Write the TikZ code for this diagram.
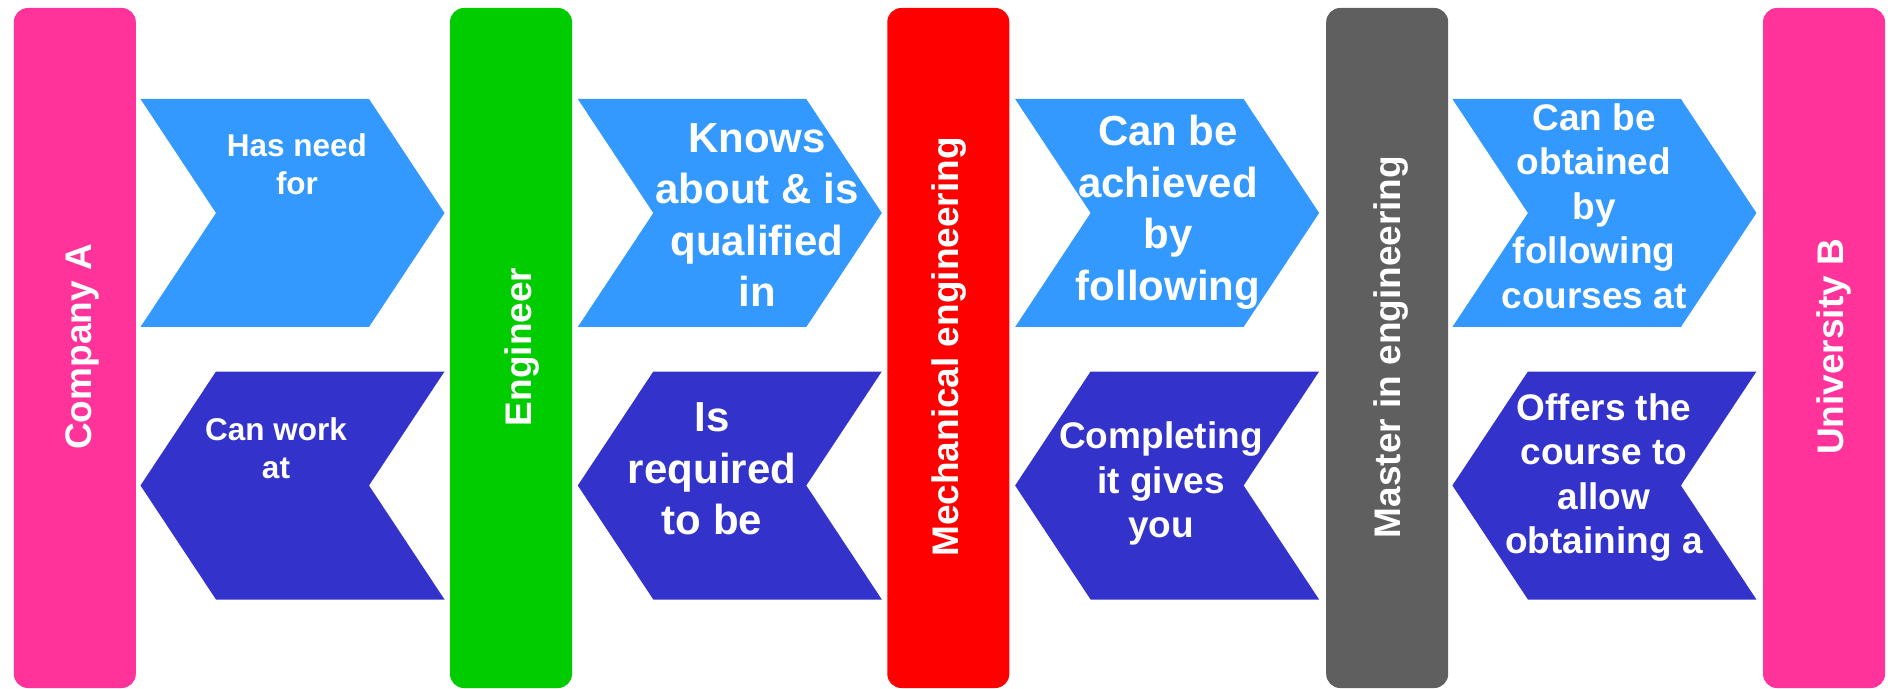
\documentclass[tikz,border=0pt]{standalone}
\usepackage{fontspec}
\setmainfont{Liberation Sans}
\definecolor{barpink}{HTML}{FF3399}
\definecolor{bargreen}{HTML}{00CC00}
\definecolor{barred}{HTML}{FF0000}
\definecolor{bargray}{HTML}{5F5F5F}
\definecolor{arrowlight}{HTML}{3399FF}
\definecolor{arrowdark}{HTML}{3333CC}
\begin{document}
\begin{tikzpicture}[x=0.5pt, y=-0.5pt]
\tikzset{bar/.style = {rounded corners=7pt, minimum width=61pt, minimum height=340pt, inner sep=0pt}}
\tikzset{vlabel/.style = {rotate=90, anchor=base, inner sep=0pt, text=white, font=\bfseries\fontsize{18.5}{22}\selectfont}}
\tikzset{bigtext/.style = {anchor=north, align=center, inner sep=0pt, text=white, font=\bfseries\fontsize{21}{25.75}\selectfont}}
\tikzset{midtext/.style = {anchor=north, align=center, inner sep=0pt, text=white, font=\bfseries\fontsize{18.5}{22.25}\selectfont}}
\tikzset{smalltext/.style = {anchor=north, align=center, inner sep=0pt, text=white, font=\bfseries\fontsize{15.75}{19.25}\selectfont}}
\useasboundingbox (0,0) rectangle (1888,689);
% bars
\node[bar, fill=barpink] (compA) at (74.8,348) {};
\node[bar, fill=bargreen] (engin) at (511,348) {};
\node[bar, fill=barred] (mech) at (948.3,348) {};
\node[bar, fill=bargray] (master) at (1387.2,348) {};
\node[bar, fill=barpink] (univB) at (1824,348) {};
\node[vlabel] (compAtext) at (91.8,347) {Company A};
\node[vlabel] (engintext) at (531,347) {Engineer};
\node[vlabel] (mechtext) at (958.3,347) {Mechanical engineering};
\node[vlabel] (mastertext) at (1400.5,347) {Master in engineering};
\node[vlabel] (univBtext) at (1843.7,347) {University B};
% chevrons to the right
\fill[arrowlight] (140.5,99) -- ++(228.5,0) -- ++(75.5,114) -- ++(-75.5,114) -- ++(-228.5,0) -- ++(75.5,-114) -- cycle;
\fill[arrowlight] (577.8,99) -- ++(228.5,0) -- ++(75.5,114) -- ++(-75.5,114) -- ++(-228.5,0) -- ++(75.5,-114) -- cycle;
\fill[arrowlight] (1015.1,99) -- ++(228.5,0) -- ++(75.5,114) -- ++(-75.5,114) -- ++(-228.5,0) -- ++(75.5,-114) -- cycle;
\fill[arrowlight] (1452.4,99) -- ++(228.5,0) -- ++(75.5,114) -- ++(-75.5,114) -- ++(-228.5,0) -- ++(75.5,-114) -- cycle;
% chevrons to the left
\fill[arrowdark] (140.5,485.5) -- ++(75.5,-114) -- ++(228.5,0) -- ++(-75.5,114) -- ++(75.5,114) -- ++(-228.5,0) -- cycle;
\fill[arrowdark] (577.8,485.5) -- ++(75.5,-114) -- ++(228.5,0) -- ++(-75.5,114) -- ++(75.5,114) -- ++(-228.5,0) -- cycle;
\fill[arrowdark] (1015.1,485.5) -- ++(75.5,-114) -- ++(228.5,0) -- ++(-75.5,114) -- ++(75.5,114) -- ++(-228.5,0) -- cycle;
\fill[arrowdark] (1452.4,485.5) -- ++(75.5,-114) -- ++(228.5,0) -- ++(-75.5,114) -- ++(75.5,114) -- ++(-228.5,0) -- cycle;
% texts
\node[smalltext] (hasneed) at (297,133) {Has need\\for};
\node[bigtext] (knows) at (757,123) {Knows\\about \& is\\qualified\\in};
\node[bigtext] (achieved) at (1168,115) {Can be\\achieved\\by\\following};
\node[midtext] (obtained) at (1594,103) {Can be\\obtained\\by\\following\\courses at};
\node[smalltext] (canwork) at (276,417) {Can work\\at};
\node[bigtext] (required) at (712,402.5) {Is\\required\\to be};
\node[midtext] (completing) at (1161,421.7) {Completing\\it gives\\you};
\node[midtext] (offers) at (1604,393) {Offers the\\course to\\allow\\obtaining a};
\end{tikzpicture}
\end{document}
